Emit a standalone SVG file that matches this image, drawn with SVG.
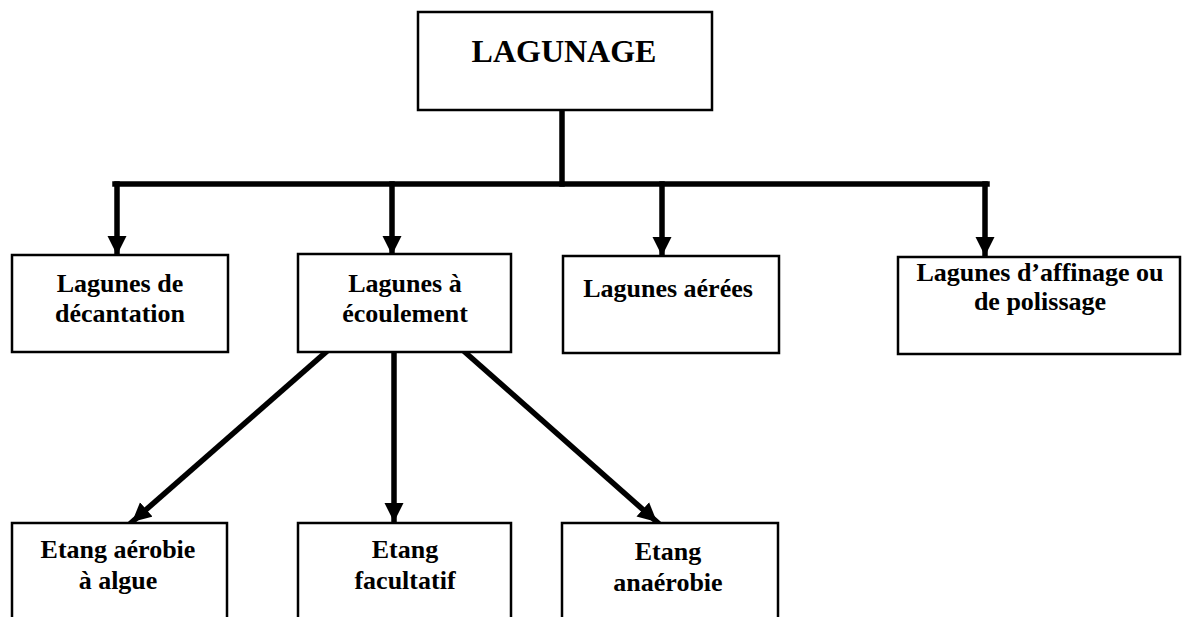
<svg xmlns="http://www.w3.org/2000/svg" width="1184" height="617" viewBox="0 0 1184 617">
<style>
.box{fill:#fff;stroke:#000;stroke-width:2.5}
.lbl{font-family:"Liberation Serif","Times New Roman",serif;font-weight:bold;font-size:26px;fill:#000;text-anchor:middle}
.title{font-family:"Liberation Serif","Times New Roman",serif;font-weight:bold;font-size:32px;fill:#000;text-anchor:middle}
.con{fill:none;stroke:#000;stroke-width:5.5;stroke-linecap:square}
</style>
<defs>
<marker id="ah" viewBox="0 0 10 10" refX="10" refY="5" markerUnits="userSpaceOnUse" markerWidth="19" markerHeight="20" orient="auto">
<path d="M0,0 L10,5 L0,10 Z" fill="#000"/>
</marker>
</defs>
<rect width="1184" height="617" fill="#fff"/>
<g id="connectors">
<line class="con" x1="562" y1="110" x2="562" y2="184"/>
<line class="con" x1="115" y1="184" x2="987" y2="184"/>
<line class="con" x1="117" y1="184" x2="117" y2="255" marker-end="url(#ah)"/>
<line class="con" x1="392" y1="184" x2="392" y2="255" marker-end="url(#ah)"/>
<line class="con" x1="662" y1="184" x2="662" y2="256" marker-end="url(#ah)"/>
<line class="con" x1="985" y1="184" x2="985" y2="256" marker-end="url(#ah)"/>
<line class="con" x1="325" y1="353" x2="132" y2="522" marker-end="url(#ah)"/>
<line class="con" x1="394" y1="353" x2="394" y2="522" marker-end="url(#ah)"/>
<line class="con" x1="466" y1="353" x2="657" y2="522" marker-end="url(#ah)"/>
</g>
<g id="lagunage">
<rect class="box" x="418" y="12" width="294" height="98" stroke-width="3"/>
<text class="title" x="564" y="62">LAGUNAGE</text>
</g>
<g id="decantation">
<rect class="box" x="12" y="255" width="216" height="97"/>
<text class="lbl" x="120" y="292">Lagunes de</text>
<text class="lbl" x="120" y="322">décantation</text>
</g>
<g id="ecoulement">
<rect class="box" x="298" y="254" width="213" height="98"/>
<text class="lbl" x="405" y="292">Lagunes à</text>
<text class="lbl" x="405" y="322">écoulement</text>
</g>
<g id="aerees">
<rect class="box" x="563" y="256" width="216" height="97"/>
<text class="lbl" x="668" y="297">Lagunes aérées</text>
</g>
<g id="affinage">
<rect class="box" x="898" y="257" width="282" height="97"/>
<text class="lbl" x="1040" y="281">Lagunes d’affinage ou</text>
<text class="lbl" x="1040" y="310">de polissage</text>
</g>
<g id="aerobie">
<rect class="box" x="12" y="523" width="215" height="130"/>
<text class="lbl" x="118" y="558">Etang aérobie</text>
<text class="lbl" x="118" y="589">à algue</text>
</g>
<g id="facultatif">
<rect class="box" x="298" y="523" width="213" height="130"/>
<text class="lbl" x="405" y="558">Etang</text>
<text class="lbl" x="405" y="589">facultatif</text>
</g>
<g id="anaerobie">
<rect class="box" x="562" y="523" width="216" height="130"/>
<text class="lbl" x="668" y="560">Etang</text>
<text class="lbl" x="668" y="591">anaérobie</text>
</g>
</svg>
